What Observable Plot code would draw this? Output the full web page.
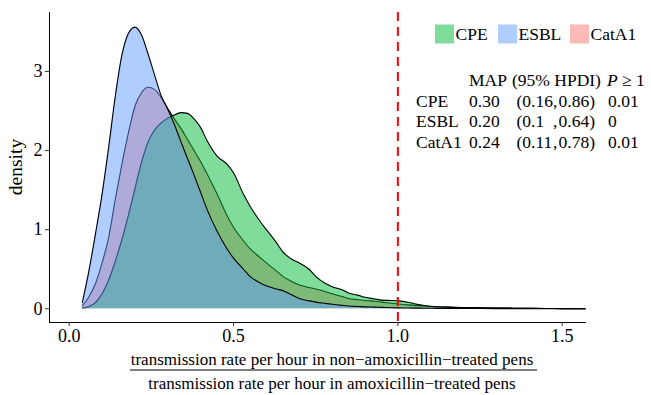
<!DOCTYPE html>
<html>
<head>
<meta charset="utf-8">
<script src="https://cdn.jsdelivr.net/npm/d3@7"></script>
<script src="https://cdn.jsdelivr.net/npm/@observablehq/plot@0.6"></script>
<style>
  html, body { margin: 0; padding: 0; background: #fff; }
  #chart svg { display: block; }
</style>
</head>
<body>
<div id="chart"></div>
<script>
// Posterior density of the ratio of transmission rates, evaluated on a shared grid
const ratio = [0.04,0.06,0.08,0.10,0.12,0.14,0.16,0.18,0.20,0.22,0.24,0.26,0.28,0.30,0.32,0.34,0.36,0.38,0.40,
  0.42,0.45,0.48,0.50,0.53,0.55,0.58,0.60,0.63,0.65,0.68,0.70,0.73,0.75,0.78,0.80,0.83,0.85,0.88,0.90,0.93,0.95,0.98,1.00,1.03,1.05,1.08,1.10,
  1.15,1.20,1.25,1.30,1.35,1.40,1.45,1.50,1.57];

const densityCPE = [0.01,0.03,0.08,0.19,0.36,0.60,0.87,1.18,1.52,1.85,2.11,2.26,2.35,2.41,2.45,2.48,2.47,2.40,2.29,
  2.12,1.93,1.83,1.72,1.45,1.30,1.11,1.00,0.84,0.72,0.62,0.58,0.50,0.41,0.32,0.28,0.24,0.20,0.17,0.145,0.125,0.11,0.105,0.10,0.083,0.065,0.042,0.032,
  0.021,0.016,0.013,0.010,0.008,0.006,0.004,0.003,0.001];

const densityESBL = [0.08,0.48,0.95,1.45,2.04,2.68,3.20,3.48,3.56,3.46,3.22,2.95,2.69,2.52,2.33,2.11,1.90,1.69,1.47,
  1.25,0.98,0.76,0.64,0.50,0.41,0.33,0.29,0.25,0.23,0.17,0.13,0.10,0.085,0.068,0.057,0.043,0.035,0.029,0.025,0.021,0.018,0.014,0.012,0.010,0.009,0.008,0.007,
  0.005,0.004,0.0035,0.003,0.0025,0.002,0.0015,0.001,0.0005];

const densityCatA1 = [0.04,0.15,0.32,0.58,0.90,1.38,1.82,2.22,2.56,2.73,2.80,2.77,2.67,2.53,2.40,2.28,2.14,2.00,1.86,
  1.70,1.45,1.18,1.03,0.86,0.76,0.65,0.58,0.48,0.41,0.34,0.30,0.27,0.25,0.215,0.19,0.155,0.13,0.115,0.105,0.095,0.085,0.07,0.06,0.05,0.044,0.035,0.03,
  0.021,0.016,0.012,0.010,0.008,0.006,0.004,0.003,0.001];

// Groups in drawing order (later groups are layered on top)
const drawOrder = ["CatA1", "CPE", "ESBL"];
const legendOrder = ["CPE", "ESBL", "CatA1"];
const groupColors = { CPE: "#00BA38", ESBL: "#619CFF", CatA1: "#F8766D" };
const groupDensity = { CPE: densityCPE, ESBL: densityESBL, CatA1: densityCatA1 };

// Summary table: maximum a posteriori, 95% HPDI and P(ratio >= 1)
const tableGroups = ["CPE", "ESBL", "CatA1"];
const mapValues = ["0.30", "0.20", "0.24"];
const hpdiLow = ["0.16", "0.1", "0.11"];
const hpdiHigh = ["0.86", "0.64", "0.78"];
const pValues = ["0.01", "0", "0.01"];

const xTicks = [0, 0.5, 1, 1.5];
const yTicks = [0, 1, 2, 3];
const threshold = [1];

const rows = drawOrder.flatMap(g => ratio.map((x, i) => ({ group: g, x, y: groupDensity[g][i] })));

const xDomain = [-0.06, 1.574];
const yDomain = [-0.173, 3.745];
const font = "'Liberation Serif', 'Times New Roman', serif";

const layers = drawOrder.flatMap(g => {
  const data = rows.filter(d => d.group === g);
  return [
    Plot.areaY(data, { x: "x", y: "y", fill: groupColors[g], fillOpacity: 0.5, curve: "monotone-x" }),
    Plot.lineY(data, { x: "x", y: "y", stroke: "#000", strokeWidth: 1.1, curve: "monotone-x" })
  ];
});

const chart = Plot.plot({
  width: 651,
  height: 395,
  marginLeft: 49,
  marginRight: 65,
  marginTop: 12,
  marginBottom: 73,
  style: { fontFamily: font, background: "#fff", color: "#000" },
  x: { domain: xDomain },
  y: { domain: yDomain },
  marks: [
    ...layers,
    Plot.ruleX(threshold, { stroke: "#FF0000", strokeWidth: 2, strokeDasharray: "9,6" }),
    Plot.ruleX([xDomain[0]], { stroke: "#000", strokeWidth: 1 }),
    Plot.ruleY([yDomain[0]], { stroke: "#000", strokeWidth: 1 }),
    Plot.axisX(xTicks, { tickFormat: d3.format(".1f"), tickSize: 4, tickPadding: 3, fontSize: 18, label: null, stroke: "#333" }),
    Plot.axisY(yTicks, { tickFormat: d3.format("d"), tickSize: 4, tickPadding: 3, fontSize: 18, label: null, stroke: "#333" })
  ]
});

document.getElementById("chart").appendChild(chart);

const svg = d3.select(chart);
const panelCenterY = (12 + 322) / 2;

// y-axis title
svg.append("text")
  .attr("transform", `translate(22,${panelCenterY}) rotate(-90)`)
  .attr("text-anchor", "middle")
  .attr("font-family", font).attr("font-size", 19.5)
  .attr("fill", "#000")
  .text("density");

// x-axis title written as a fraction
const fracX = 332;
svg.append("text")
  .attr("x", fracX).attr("y", 365)
  .attr("text-anchor", "middle")
  .attr("font-family", font).attr("font-size", 17).attr("fill", "#000")
  .text("transmission rate per hour in non\u2212amoxicillin\u2212treated pens");
svg.append("line")
  .attr("x1", 130).attr("x2", 537).attr("y1", 370).attr("y2", 370)
  .attr("stroke", "#000").attr("stroke-width", 1.2);
svg.append("text")
  .attr("x", fracX).attr("y", 389)
  .attr("text-anchor", "middle")
  .attr("font-family", font).attr("font-size", 17).attr("fill", "#000")
  .text("transmission rate per hour in amoxicillin\u2212treated pens");

// Legend
const legendX = [435, 498, 570];
const legend = svg.append("g").attr("font-family", font).attr("font-size", 17.5).attr("text-anchor", "start");
legendOrder.forEach((g, i) => {
  legend.append("rect")
    .attr("x", legendX[i]).attr("y", 24.5).attr("width", 19).attr("height", 19)
    .attr("fill", groupColors[g]).attr("fill-opacity", 0.5);
  legend.append("text")
    .attr("x", legendX[i] + 20.5).attr("y", 40)
    .attr("fill", "#000")
    .text(g);
});

// Summary table
const table = svg.append("g").attr("font-family", font).attr("font-size", 17.5)
  .attr("fill", "#000").attr("text-anchor", "start");
const headerY = 86;
const rowStep = 20.6;
table.append("text").attr("x", 469).attr("y", headerY).text("MAP");
table.append("text").attr("x", 512).attr("y", headerY).text("(95% HPDI)");
const pHead = table.append("text").attr("x", 607).attr("y", headerY);
pHead.append("tspan").attr("font-style", "italic").text("P");
pHead.append("tspan").text(" \u2265 1");
tableGroups.forEach((g, i) => {
  const y = headerY + rowStep * (i + 1);
  table.append("text").attr("x", 416).attr("y", y).text(g);
  table.append("text").attr("x", 469).attr("y", y).text(mapValues[i]);
  table.append("text").attr("x", 516.5).attr("y", y).text("(" + hpdiLow[i]);
  table.append("text").attr("x", 553).attr("y", y).text(",");
  table.append("text").attr("x", 558.5).attr("y", y).text(hpdiHigh[i] + ")");
  table.append("text").attr("x", 608).attr("y", y).text(pValues[i]);
});
</script>
</body>
</html>
